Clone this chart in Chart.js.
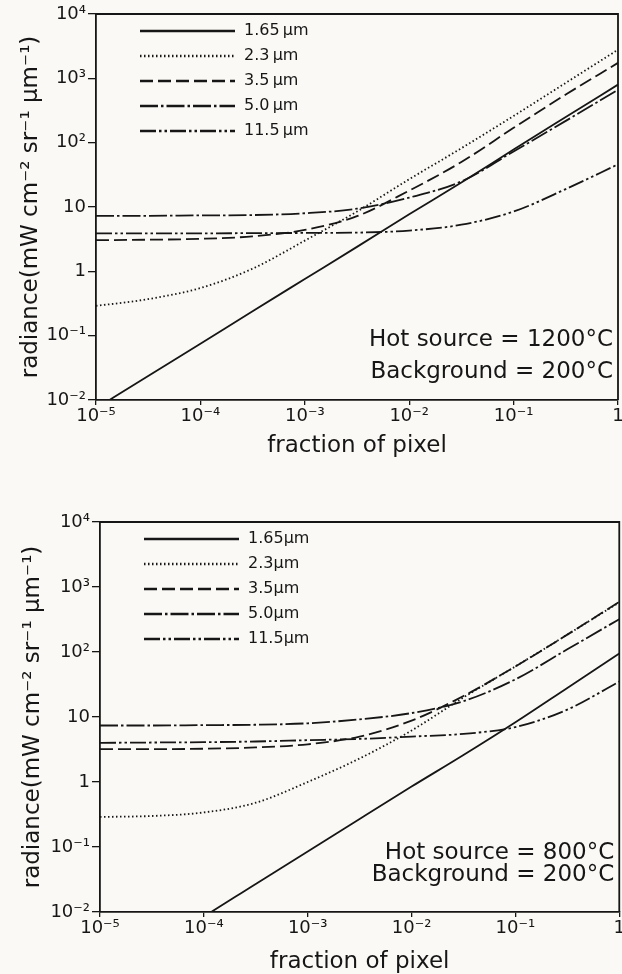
<!DOCTYPE html>
<html>
<head>
<meta charset="utf-8">
<script src="https://cdn.jsdelivr.net/npm/chart.js@4.4.1/dist/chart.umd.min.js"></script>
<style>
  html, body { margin: 0; padding: 0; background: #faf9f5; overflow: hidden; }
  body { width: 622px; height: 974px; position: relative; }
  .panel { position: absolute; left: 0; width: 626px; }
  #top-panel { top: 0; height: 458px; }
  #bottom-panel { top: 508px; height: 466px; }
</style>
</head>
<body>
<div class="panel" id="top-panel"><canvas id="hot-1200"></canvas></div>
<div class="panel" id="bottom-panel"><canvas id="hot-800"></canvas></div>
<script>
// fraction of pixel filled by the hot source
const fraction = [0.00001, 0.0000316, 0.0001, 0.000316, 0.001, 0.00316, 0.01, 0.0316, 0.1, 0.316, 1];
const wavelengths = ['1.65', '2.3', '3.5', '5.0', '11.5'];

const xTickValues = [1e-5, 1e-4, 1e-3, 1e-2, 1e-1, 1];
const xTickLabels = ['10⁻⁵', '10⁻⁴', '10⁻³', '10⁻²', '10⁻¹', '1'];
const yTickValues = [1e-2, 1e-1, 1, 10, 100, 1000, 10000];
const yTickLabels = ['10⁻²', '10⁻¹', '1', '10', '10²', '10³', '10⁴'];

// hot source 1200°C, background 200°C
const hot1200_165 = [0.0074, 0.0236, 0.075, 0.24, 0.76, 2.4, 7.7, 24, 78, 250, 800];
const hot1200_23  = [0.29, 0.37, 0.55, 1.1, 3.0, 8.5, 27, 82, 260, 850, 2790];
const hot1200_35  = [3.05, 3.1, 3.2, 3.5, 4.4, 7.2, 18, 50, 170, 560, 1740];
const hot1200_50  = [7.3, 7.3, 7.4, 7.5, 8.0, 9.4, 14, 25, 73, 218, 665];
const hot1200_115 = [3.9, 3.9, 3.9, 3.92, 3.95, 4.0, 4.3, 5.3, 8.5, 19, 46];

// hot source 800°C, background 200°C
const hot800_165 = [0.0009, 0.0028, 0.0085, 0.027, 0.085, 0.27, 0.85, 2.6, 8.3, 28, 95];
const hot800_23  = [0.29, 0.30, 0.34, 0.48, 1.0, 2.3, 6.2, 20, 60, 185, 580];
const hot800_35  = [3.2, 3.2, 3.25, 3.4, 3.8, 5.0, 8.8, 21, 60, 185, 590];
const hot800_50  = [7.4, 7.4, 7.5, 7.6, 8.0, 9.2, 11.5, 17.5, 38, 110, 320];
const hot800_115 = [4.0, 4.05, 4.1, 4.2, 4.4, 4.6, 5.0, 5.5, 7.0, 13, 35];

const ink = '#161616';
// solid, dotted, dashed, dash-dot, dash-dot-dot
const lineDash = [[], [1.5, 2.5], [13, 5], [18, 3, 2.5, 3], [16, 3, 2.5, 3, 2.5, 3]];

Chart.defaults.font.family = "'DejaVu Sans', sans-serif";
Chart.defaults.color = ink;

// box, in-plot legend and the temperature note
const panelPlugin = {
  id: 'panel',
  afterDraw(chart, args, opts) {
    const ctx = chart.ctx;
    const a = chart.chartArea;
    ctx.save();
    ctx.strokeStyle = ink;
    ctx.lineWidth = 1.8;
    ctx.beginPath();
    ctx.moveTo(a.left, a.top);
    ctx.lineTo(a.right, a.top);
    ctx.lineTo(a.right, a.bottom);
    ctx.stroke();

    ctx.fillStyle = ink;
    ctx.font = "16px 'DejaVu Sans'";
    ctx.textBaseline = 'middle';
    chart.data.datasets.forEach((ds, i) => {
      const y = a.top + 17 + i * 25;
      const x0 = a.left + 44;
      ctx.lineWidth = 2.4;
      ctx.setLineDash(ds.borderDash);
      ctx.beginPath();
      ctx.moveTo(x0, y);
      ctx.lineTo(x0 + 95, y);
      ctx.stroke();
      ctx.setLineDash([]);
      ctx.fillText(ds.label, x0 + 104, y);
    });

    ctx.font = "23px 'DejaVu Sans'";
    ctx.textAlign = 'right';
    opts.note.forEach((t, i) => ctx.fillText(t, a.right - 5, a.bottom - opts.noteY[i]));
    ctx.restore();
  }
};

function radianceChart(canvas, series, names, cfg) {
  return new Chart(canvas, {
    type: 'line',
    data: {
      datasets: series.map((s, i) => ({
        label: names[i],
        data: fraction.map((f, j) => ({ x: f, y: s[j] })),
        borderColor: ink,
        borderWidth: 1.8,
        borderDash: lineDash[i],
        pointRadius: 0,
        cubicInterpolationMode: 'monotone'
      }))
    },
    options: {
      maintainAspectRatio: false,
      animation: false,
      layout: { padding: { top: 14, right: cfg.padRight, left: 0, bottom: 0 } },
      plugins: {
        legend: { display: false },
        tooltip: { enabled: false },
        panel: { note: cfg.note, noteY: cfg.noteY }
      },
      scales: {
        x: {
          type: 'logarithmic',
          min: 1e-5,
          max: 1,
          afterBuildTicks: s => { s.ticks = xTickValues.map(v => ({ value: v })); },
          afterFit: s => { s.height = cfg.xHeight; },
          ticks: { callback: (v, i) => xTickLabels[i], font: { size: 18 }, padding: 1, maxRotation: 0, autoSkip: false },
          grid: { drawOnChartArea: false, tickLength: 5, color: ink, lineWidth: 1.3 },
          border: { color: ink, width: 1.8 },
          title: { display: true, text: 'fraction of pixel', font: { size: 23, lineHeight: 1 }, padding: 0 }
        },
        y: {
          type: 'logarithmic',
          min: 1e-2,
          max: 1e4,
          afterBuildTicks: s => { s.ticks = yTickValues.map(v => ({ value: v })); },
          afterFit: s => { s.width = cfg.yWidth; },
          ticks: { callback: (v, i) => yTickLabels[i], font: { size: 18 }, padding: 2, autoSkip: false },
          grid: { drawOnChartArea: false, tickLength: 8, color: ink, lineWidth: 1.3 },
          border: { color: ink, width: 1.8 },
          title: {
            display: true,
            text: 'radiance(mW cm⁻² sr⁻¹ µm⁻¹)',
            font: { size: 23, lineHeight: 1 },
            padding: { top: cfg.yTitlePad, bottom: 0 }
          }
        }
      }
    },
    plugins: [panelPlugin]
  });
}

// 1200°C panel
radianceChart(document.getElementById('hot-1200'),
  [hot1200_165, hot1200_23, hot1200_35, hot1200_50, hot1200_115],
  wavelengths.map(w => w + '\u2009µm'),
  { padRight: 8, xHeight: 58, yWidth: 96, yTitlePad: 20,
    note: ['Hot source = 1200°C', 'Background = 200°C'], noteY: [60, 28] });

// 800°C panel
radianceChart(document.getElementById('hot-800'),
  [hot800_165, hot800_23, hot800_35, hot800_50, hot800_115],
  wavelengths.map(w => w + 'µm'),
  { padRight: 6, xHeight: 62, yWidth: 100, yTitlePad: 22,
    note: ['Hot source = 800°C', 'Background = 200°C'], noteY: [59, 37] });
</script>
</body>
</html>
